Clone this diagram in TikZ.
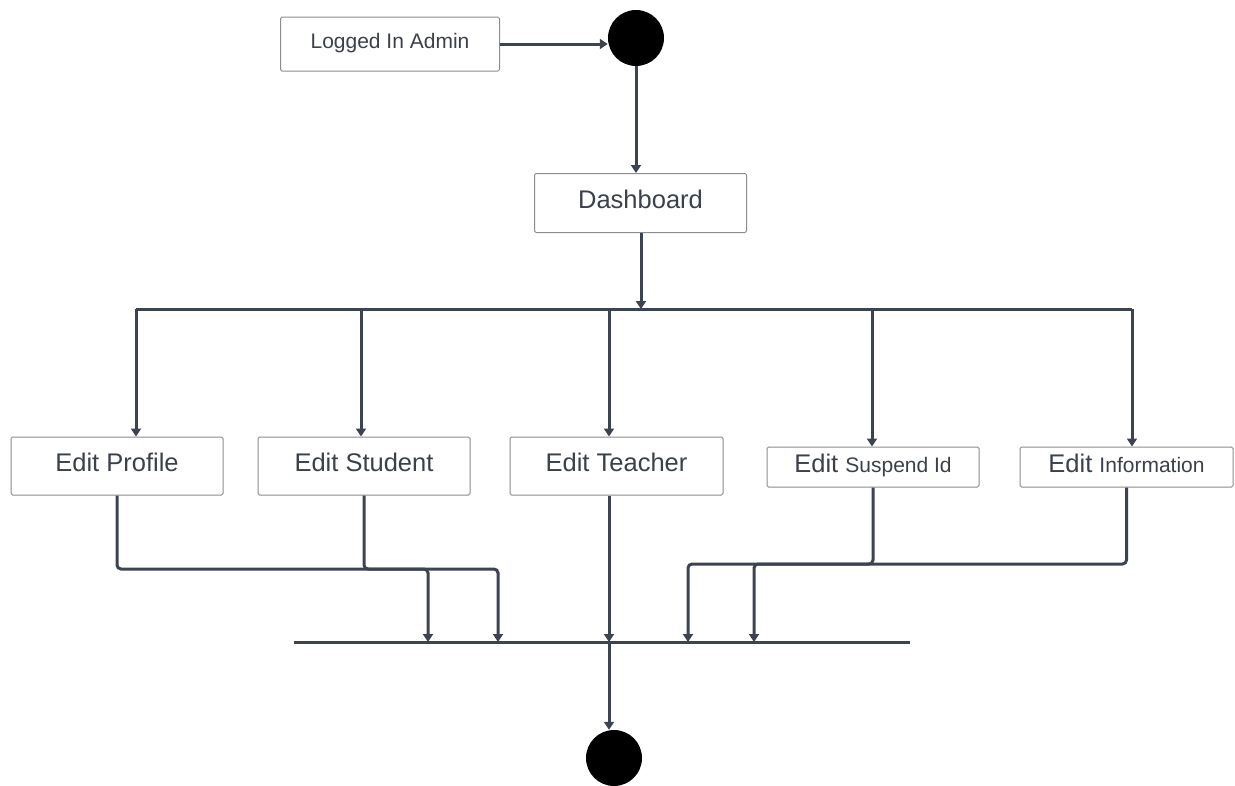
\documentclass[tikz,border=0pt]{standalone}
\usepackage{fontspec}
\setmainfont{Liberation Sans}
\usetikzlibrary{arrows.meta}
\definecolor{linec}{HTML}{3D4451}
\definecolor{textc}{HTML}{3B414A}
\definecolor{boxc}{HTML}{8C8C8C}
\tikzset{
  stepbox/.style={draw=boxc, line width=1pt, rounded corners=1.5pt, fill=white,
    inner sep=0pt, text=textc, text height=18pt, text depth=7pt,
    font=\fontsize{25.5}{30}\selectfont},
  dot/.style={circle, fill=black, draw=none, minimum size=56pt, inner sep=0pt},
  conn/.style={draw=linec, line width=3pt, rounded corners=4pt,
    -{Triangle[length=8pt,width=10pt]}},
  barline/.style={draw=linec, line width=3pt},
}
\newcommand{\smalltxt}{\fontsize{21}{25}\selectfont}
\begin{document}
\begin{tikzpicture}[x=1pt,y=-1pt]
\useasboundingbox (0,0) rectangle (1235,785);
% nodes
\node[stepbox, minimum width=219pt, minimum height=54pt, font=\fontsize{21}{25}\selectfont, text height=15pt, text depth=6pt] (login) at (390,44) {Logged In Admin};
\node[dot] (start) at (636,38) {};
\node[stepbox, minimum width=212pt, minimum height=59pt] (dash) at (640.5,203) {Dashboard};
\node[stepbox, minimum width=212pt, minimum height=58pt] (ep) at (117,466) {Edit Profile};
\node[stepbox, minimum width=212pt, minimum height=58pt] (es) at (364,466) {Edit Student};
\node[stepbox, minimum width=213pt, minimum height=58pt] (et) at (616.5,466) {Edit Teacher};
\node[stepbox, minimum width=212pt, minimum height=40pt] (esi) at (873,467) {Edit {\smalltxt Suspend Id}};
\node[stepbox, minimum width=213pt, minimum height=40pt] (ei) at (1126.5,467) {Edit {\smalltxt Information}};
\node[dot] (end) at (614,758) {};
% coordinates
\coordinate (dj) at (641,309);
\coordinate (b1) at (136,309);
\coordinate (b2) at (361,309);
\coordinate (b3) at (609,309);
\coordinate (b4) at (872,309);
\coordinate (b5) at (1132,309);
\coordinate (jL) at (294,642);
\coordinate (jR) at (910,642);
\coordinate (j1) at (428,642);
\coordinate (j2) at (498,642);
\coordinate (j3) at (609,642);
\coordinate (j4) at (688,642);
\coordinate (j5) at (754,642);
\coordinate (rowL) at (0,569);
\coordinate (rowR) at (0,564);
% top
\draw[conn] (login.east) -- (login.east -| start.west);
\draw[conn] (start.south) -- (start.south |- dash.north);
\draw[conn] (dash.south -| dj) -- (dj);
\draw[barline] (b1) -- (b5);
\draw[conn] (b1) -- (b1 |- ep.north);
\draw[conn] (b2) -- (b2 |- es.north);
\draw[conn] (b3) -- (b3 |- et.north);
\draw[conn] (b4) -- (b4 |- esi.north);
\draw[conn] (b5) -- (b5 |- ei.north);
% bottom
\draw[barline] (jL) -- (jR);
\draw[conn] (ep.south) |- (j1 |- rowL) -- (j1);
\draw[conn] (es.south -| 364,0) |- (j2 |- rowL) -- (j2);
\draw[conn] (et.south -| j3) -- (j3);
\draw[conn] (esi.south) |- (j4 |- rowR) -- (j4);
\draw[conn] (ei.south) |- (j5 |- rowR) -- (j5);
\draw[conn] (j3) -- (j3 |- end.north);
\end{tikzpicture}
\end{document}
